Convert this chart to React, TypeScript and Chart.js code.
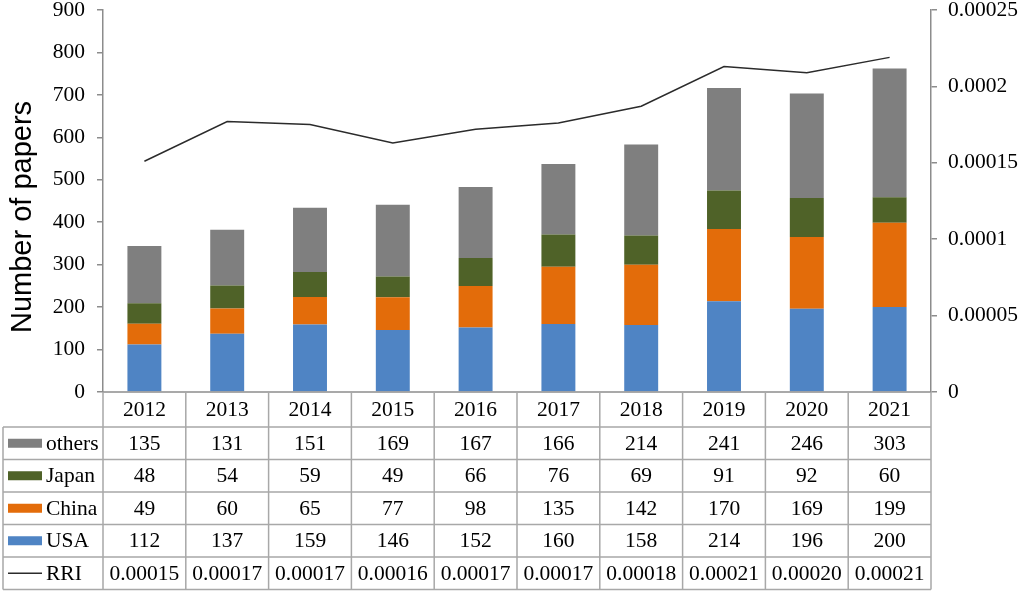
import React, { useEffect, useRef } from "react";
import { Chart, registerables } from "chart.js";

Chart.register(...registerables);

const categories = ["2012", "2013", "2014", "2015", "2016", "2017", "2018", "2019", "2020", "2021"];
const usa = [112, 137, 159, 146, 152, 160, 158, 214, 196, 200];
const china = [49, 60, 65, 77, 98, 135, 142, 170, 169, 199];
const japan = [48, 54, 59, 49, 66, 76, 69, 91, 92, 60];
const others = [135, 131, 151, 169, 167, 166, 214, 241, 246, 303];
const rri = [0.000151, 0.000177, 0.000175, 0.000163, 0.000172, 0.000176, 0.000187, 0.000213, 0.000209, 0.000219];
const rriLabels = ["0.00015", "0.00017", "0.00017", "0.00016", "0.00017", "0.00017", "0.00018", "0.00021", "0.00020", "0.00021"];
const rightTickLabels = ["0", "0.00005", "0.0001", "0.00015", "0.0002", "0.00025"];
const axisTitle = "Number of papers";

const COLORS = {
  others: "#7f7f7f",
  japan: "#4f6228",
  china: "#e36c0a",
  usa: "#4f84c4",
  rri: "#2b2b2b",
  axis: "#8c8c8c",
  table: "#a8a8a8",
};

const SERIF = "'Liberation Serif', 'Times New Roman', serif";
const SANS = "'Liberation Sans', Arial, sans-serif";
const FONT_SIZE = 21.5;

const tablePlugin = {
  id: "dataTable",
  afterDraw(chart: any) {
    const ctx = chart.ctx as CanvasRenderingContext2D;
    const xs = chart.scales.x;
    const area = chart.chartArea;
    const n = categories.length;
    const colW = (area.right - area.left) / n;
    const top = area.bottom;
    const headerBottom = top + 35;
    const rowH = 32.5;
    const rows = [
      { name: "others", color: COLORS.others, vals: others.map(String), kind: "box" },
      { name: "Japan", color: COLORS.japan, vals: japan.map(String), kind: "box" },
      { name: "China", color: COLORS.china, vals: china.map(String), kind: "box" },
      { name: "USA", color: COLORS.usa, vals: usa.map(String), kind: "box" },
      { name: "RRI", color: COLORS.rri, vals: rriLabels, kind: "line" },
    ];
    const bottom = headerBottom + rowH * rows.length;
    const legendLeft = 3;

    ctx.save();
    ctx.strokeStyle = COLORS.axis;
    ctx.lineWidth = 1.5;
    ctx.beginPath();
    ctx.moveTo(area.left, top);
    ctx.lineTo(area.right, top);
    ctx.stroke();

    ctx.strokeStyle = COLORS.table;
    ctx.lineWidth = 1.5;
    ctx.beginPath();
    for (let i = 0; i <= n; i++) {
      const x = area.left + i * colW;
      ctx.moveTo(x, top);
      ctx.lineTo(x, bottom);
    }
    ctx.moveTo(legendLeft, headerBottom);
    ctx.lineTo(legendLeft, bottom);
    for (let r = 0; r <= rows.length; r++) {
      const y = headerBottom + r * rowH;
      ctx.moveTo(legendLeft, y);
      ctx.lineTo(area.right, y);
    }
    ctx.stroke();

    ctx.fillStyle = "#000";
    ctx.font = `${FONT_SIZE}px ${SERIF}`;
    ctx.textAlign = "center";
    ctx.textBaseline = "middle";
    for (let i = 0; i < n; i++) {
      const cx = xs.getPixelForValue(i);
      ctx.fillText(categories[i], cx, (top + headerBottom) / 2 + 1);
    }
    rows.forEach((row, r) => {
      const cy = headerBottom + r * rowH + rowH / 2;
      for (let i = 0; i < n; i++) {
        const cx = xs.getPixelForValue(i);
        ctx.fillText(row.vals[i], cx, cy + 1);
      }
      if (row.kind === "box") {
        ctx.fillStyle = row.color;
        ctx.fillRect(8, cy - 4.5, 34, 9);
      } else {
        ctx.strokeStyle = row.color;
        ctx.lineWidth = 1.5;
        ctx.beginPath();
        ctx.moveTo(8, cy);
        ctx.lineTo(42, cy);
        ctx.stroke();
      }
      ctx.fillStyle = "#000";
      ctx.textAlign = "left";
      ctx.fillText(row.name, 46, cy + 1);
      ctx.textAlign = "center";
    });

    ctx.save();
    ctx.translate(23, 217);
    ctx.rotate(-Math.PI / 2);
    ctx.font = `29px ${SANS}`;
    ctx.textAlign = "center";
    ctx.textBaseline = "middle";
    ctx.fillStyle = "#000";
    ctx.fillText(axisTitle, 0, 0);
    ctx.restore();

    ctx.restore();
  },
};

export default function App() {
  const ref = useRef<HTMLCanvasElement | null>(null);

  useEffect(() => {
    if (!ref.current) return;
    const barCommon = {
      type: "bar" as const,
      stack: "s",
      yAxisID: "y",
      barPercentage: 0.41,
      categoryPercentage: 1,
      borderWidth: 0,
      order: 1,
    };
    const chart = new Chart(ref.current, {
      type: "bar",
      data: {
        labels: categories,
        datasets: [
          { ...barCommon, label: "USA", data: usa, backgroundColor: COLORS.usa },
          { ...barCommon, label: "China", data: china, backgroundColor: COLORS.china },
          { ...barCommon, label: "Japan", data: japan, backgroundColor: COLORS.japan },
          { ...barCommon, label: "others", data: others, backgroundColor: COLORS.others },
          {
            type: "line",
            label: "RRI",
            data: rri,
            yAxisID: "y1",
            borderColor: COLORS.rri,
            borderWidth: 1.5,
            pointRadius: 0,
            tension: 0,
            fill: false,
            order: 0,
          } as any,
        ],
      },
      options: {
        animation: false,
        responsive: false,
        devicePixelRatio: 1,
        layout: { padding: { left: 0, right: 0, top: 10, bottom: 201 } },
        plugins: { legend: { display: false }, tooltip: { enabled: false } },
        scales: {
          x: {
            display: false,
            stacked: true,
            offset: true,
          },
          y: {
            position: "left",
            stacked: true,
            min: 0,
            max: 900,
            ticks: {
              stepSize: 100,
              color: "#000",
              padding: 12,
              font: { family: SERIF, size: FONT_SIZE },
            },
            grid: { drawOnChartArea: false, drawTicks: true, tickLength: 6, color: COLORS.axis, lineWidth: 1.5 },
            border: { display: true, color: COLORS.axis, width: 1.5 },
            afterFit(scale: any) {
              scale.width = 103;
              scale.paddingTop = 0;
              scale.paddingBottom = 0;
            },
          },
          y1: {
            position: "right",
            min: 0,
            max: 0.00025,
            ticks: {
              stepSize: 0.00005,
              color: "#000",
              padding: 11,
              font: { family: SERIF, size: FONT_SIZE },
              callback: (_v: any, i: number) => rightTickLabels[i],
            },
            grid: { drawOnChartArea: false, drawTicks: true, tickLength: 6, color: COLORS.axis, lineWidth: 1.5 },
            border: { display: true, color: COLORS.axis, width: 1.5 },
            afterFit(scale: any) {
              scale.width = 90;
              scale.paddingTop = 0;
              scale.paddingBottom = 0;
            },
          },
        },
      } as any,
      plugins: [tablePlugin],
    });
    return () => chart.destroy();
  }, []);

  return (
    <div style={{ position: "fixed", left: 0, top: 0, width: 1021, height: 593, background: "#fff" }}>
      <canvas ref={ref} width={1021} height={593} />
    </div>
  );
}
